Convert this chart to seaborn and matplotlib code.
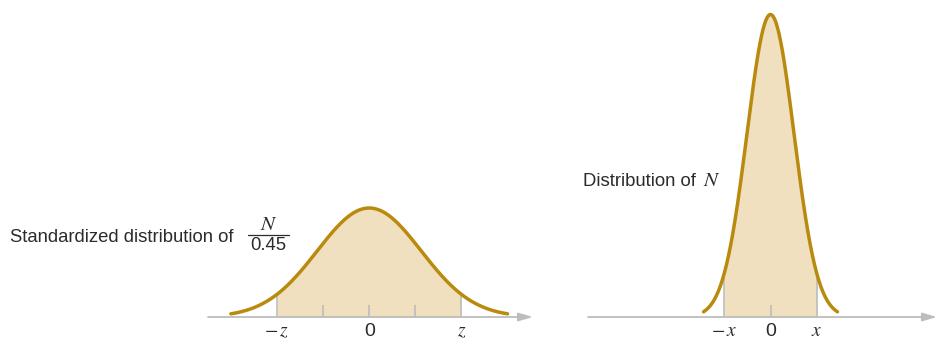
import numpy as np
import pandas as pd
import matplotlib.pyplot as plt
import seaborn as sns

sns.set_style("white")
plt.rcParams['font.family'] = ['Liberation Sans', 'DejaVu Sans']
plt.rcParams['mathtext.fontset'] = 'stix'

# --- data (each panel in its own sigma units) ---
left_cut = 1.775            # -z .. z
left_span = 2.66            # curve drawn over +-span
left_ticks = [-0.8875, 0.0, 0.8875]
left_label_pos = [-1.775, 0.0, 1.775]
left_labels = [r"$-\,z$", "0", "$z$"]

right_cut = 1.98            # -x .. x
right_span = 2.85
right_ticks = [0.0]
right_label_pos = [-1.98, 0.0, 1.98]
right_labels = [r"$-\,x$", "0", "$x$"]

LINE = "#B98A0E"
FILL = "#F0E0C0"
GREY = "#BDBDBD"
TEXT = "#2b2b2b"

W, H = 941, 341
fig = plt.figure(figsize=(W / 100, H / 100), dpi=100)
PEAK = 1 / np.sqrt(2 * np.pi)


def pdf(x):
    return np.exp(-x ** 2 / 2) / np.sqrt(2 * np.pi)


def make_axes(l, r, x0, unit, base, peak):
    ax = fig.add_axes([l / W, 0, (r - l) / W, 1])
    ax.set_xlim((l - x0) / unit, (r - x0) / unit)
    ys = PEAK / (base - peak)          # data units per pixel
    ax.set_ylim(-(H - base) * ys, base * ys)
    ax.axis("off")
    return ax, ys


def draw_panel(ax, ys, x0, unit, span, cut, ticks, lab_pos, labels, ax_from, ax_to):
    xs = np.linspace(-span, span, 400)
    df = pd.DataFrame({"x": xs, "y": pdf(xs)})
    m = np.abs(xs) <= cut
    ax.fill_between(xs[m], df["y"][m], 0, color=FILL, lw=0, zorder=1)
    ax.vlines([-cut, cut], 0, pdf(cut), color=GREY, lw=1.2, zorder=2)
    ax.vlines(ticks, 0, 12 * ys, color=GREY, lw=1.2, zorder=2)
    ax.annotate("", xy=((ax_to - x0) / unit, 0), xytext=((ax_from - x0) / unit, 0),
                arrowprops=dict(arrowstyle="-|>,head_length=0.86,head_width=0.25",
                                color=GREY, lw=1.3, shrinkA=0, shrinkB=0), zorder=2)
    sns.lineplot(data=df, x="x", y="y", ax=ax, color=LINE, linewidth=2.5, zorder=3)
    for p, t in zip(lab_pos, labels):
        ax.text(p, -15 * ys, t, ha="center", va="center", fontsize=14, color=TEXT)


axL, ysL = make_axes(0, 560, 369.2, 52.0, 317, 208)
draw_panel(axL, ysL, 369.2, 52.0, left_span, left_cut, left_ticks,
           left_label_pos, left_labels, 208, 533)

axR, ysR = make_axes(565, 941, 770.5, 23.5, 317, 14.5)
draw_panel(axR, ysR, 770.5, 23.5, right_span, right_cut, right_ticks,
           right_label_pos, right_labels, 588, 937)


def fx(x):
    return x / W


def fy(y):
    return 1 - y / H


fig.text(fx(10), fy(237), "Standardized distribution of", ha="left", va="center",
         fontsize=13.3, color=TEXT)
fig.text(fx(269), fy(224), "$N$", ha="center", va="center", fontsize=15, color=TEXT)
fig.add_artist(plt.Line2D([fx(248), fx(289)], [fy(235), fy(235)], color=TEXT, lw=0.9))
fig.text(fx(268), fy(246), "0.45", ha="center", va="center", fontsize=13.3, color=TEXT)
fig.text(fx(583), fy(181), "Distribution of", ha="left", va="center",
         fontsize=13.3, color=TEXT)
fig.text(fx(703), fy(181), "$N$", ha="left", va="center", fontsize=15, color=TEXT)

fig.savefig("out.png", dpi=100)
